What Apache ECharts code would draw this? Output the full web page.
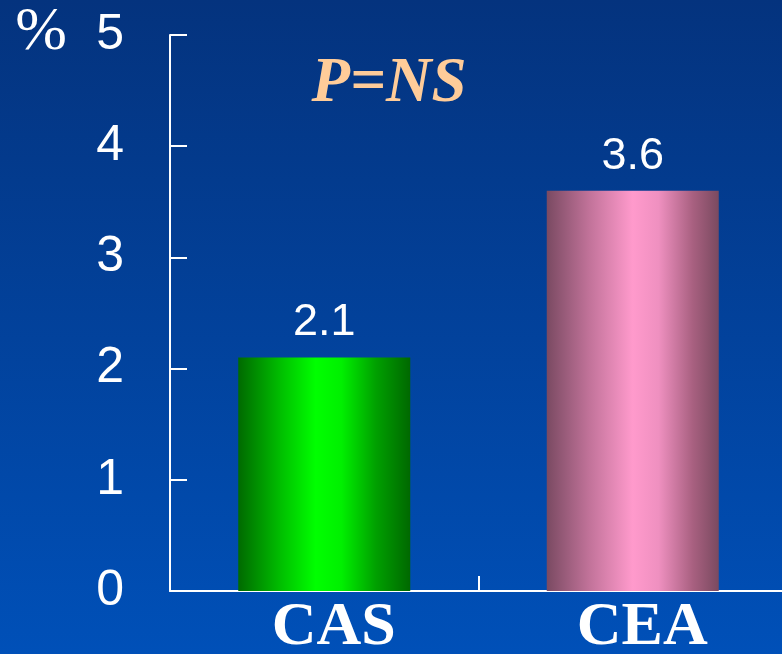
<!DOCTYPE html>
<html>
<head>
<meta charset="utf-8">
<script src="https://cdn.jsdelivr.net/npm/echarts@6/dist/echarts.min.js"></script>
<style>
  html, body { margin: 0; padding: 0; }
  #chart { width: 782px; height: 654px; }
</style>
</head>
<body>
<div id="chart"></div>
<script>
// Event rates by procedure
const categories = ['CAS', 'CEA'];
const rates = [2.1, 3.6];
const yTicks = [0, 1, 2, 3, 4, 5];

// Cylinder-like shading for each bar
const barFills = [
  new echarts.graphic.LinearGradient(0, 0, 1, 0, [
    { offset: 0, color: '#006a00' },
    { offset: 0.25, color: '#00c000' },
    { offset: 0.45, color: '#00ff00' },
    { offset: 0.6, color: '#00f000' },
    { offset: 0.8, color: '#00a000' },
    { offset: 1, color: '#006800' }
  ]),
  new echarts.graphic.LinearGradient(0, 0, 1, 0, [
    { offset: 0, color: '#7a4a62' },
    { offset: 0.25, color: '#c2739a' },
    { offset: 0.5, color: '#ff9acc' },
    { offset: 0.65, color: '#ef90c0' },
    { offset: 0.85, color: '#a86080' },
    { offset: 1, color: '#7a4a60' }
  ])
];

const chart = echarts.init(document.getElementById('chart'));
chart.setOption({
  animation: false,
  backgroundColor: new echarts.graphic.LinearGradient(0, 0, 0, 1, [
    { offset: 0, color: '#04337e' },
    { offset: 1, color: '#0050b8' }
  ]),
  grid: {
    left: 170, right: -5, top: 35, bottom: 63,
    containLabel: false, outerBoundsMode: 'none'
  },
  graphic: [
    {
      type: 'text', x: 41, y: 33,
      style: {
        text: '%', font: '62px "Liberation Serif", serif', fill: '#ffffff',
        align: 'center', verticalAlign: 'middle'
      }
    },
    {
      type: 'text', x: 389, y: 85,
      style: {
        text: 'P=NS', font: 'italic bold 63px "Liberation Serif", serif',
        fill: '#ffcc99', align: 'center', verticalAlign: 'middle'
      }
    }
  ],
  xAxis: {
    type: 'category',
    data: categories,
    axisLine: { lineStyle: { color: '#ffffff', width: 2 } },
    axisTick: {
      show: true, alignWithLabel: false, inside: true, length: 15,
      lineStyle: { color: '#ffffff', width: 2 }
    },
    axisLabel: {
      color: '#ffffff', fontFamily: '"Liberation Serif", serif', fontWeight: 'bold',
      fontSize: 62, margin: 6, padding: [0, 0, 0, 19]
    }
  },
  yAxis: {
    type: 'value',
    min: yTicks[0], max: yTicks[yTicks.length - 1], interval: 1,
    axisLine: { show: true, lineStyle: { color: '#ffffff', width: 2 } },
    axisTick: { show: true, inside: true, length: 17, lineStyle: { color: '#ffffff', width: 2 } },
    splitLine: { show: false },
    axisLabel: {
      color: '#ffffff', fontFamily: '"Liberation Sans", Arial, sans-serif',
      fontSize: 50, margin: 46
    }
  },
  series: [{
    type: 'bar',
    barWidth: 172,
    data: rates.map((v, i) => ({ value: v, itemStyle: { color: barFills[i] } })),
    label: {
      show: true, position: 'top', distance: 12,
      color: '#ffffff', fontFamily: '"Liberation Sans", Arial, sans-serif', fontSize: 45,
      formatter: p => p.value.toFixed(1)
    }
  }]
});
</script>
</body>
</html>
